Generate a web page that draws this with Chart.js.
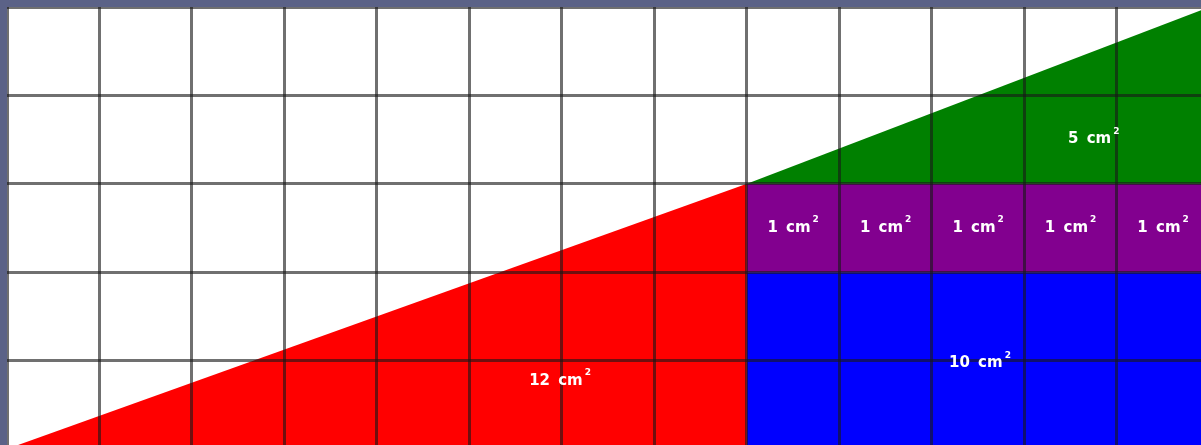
<!DOCTYPE html>
<html>
<head>
<meta charset="utf-8">
<script src="https://cdn.jsdelivr.net/npm/chart.js@4.4.1/dist/chart.umd.min.js"></script>
<style>
  html, body { margin: 0; padding: 0; background: #5b6287; width: 1201px; height: 445px; overflow: hidden; }
  #wrap { position: absolute; left: 7px; top: 7px; width: 1194px; height: 438px; background: #ffffff; }
  #c { filter: blur(0.6px); }
</style>
</head>
<body>
<div id="wrap"><canvas id="c"></canvas></div>
<script>
// Shapes (grid units: 1 cell = 1 cm)
const redX = [0, 8];
const redY = [0, 3];
const redBase = 0;

const greenX = [8, 13];
const greenY = [3, 5];
const greenBase = 3;

const purpleX = [8, 13];
const purpleY = [3, 3];
const purpleBase = 2;

const blueX = [8, 13];
const blueY = [2, 2];
const blueBase = 0;

// Area labels
const labelTexts = ['12 cm', '10 cm', '5 cm', '1 cm', '1 cm', '1 cm', '1 cm', '1 cm'];
const labelX = [5.98, 10.52, 11.75, 8.5, 9.5, 10.5, 11.5, 12.5];
const labelY = [0.77, 0.97, 3.5, 2.5, 2.5, 2.5, 2.5, 2.5];

// Axis ranges (visible window of the grid)
const xMin = 0, xMax = 12.91;
const yMin = 0.045, yMax = 5;

function pts(xs, ys) { return xs.map((x, i) => ({ x: x, y: ys[i] })); }

const mainFont = 'bold 15px "DejaVu Sans", Verdana, sans-serif';
const supFont = 'bold 9px "DejaVu Sans", Verdana, sans-serif';

const labelPlugin = {
  id: 'areaLabels',
  afterDraw(chart) {
    const ctx = chart.ctx;
    const xs = chart.scales.x, ys = chart.scales.y;
    ctx.save();
    ctx.fillStyle = '#ffffff';
    ctx.textBaseline = 'middle';
    ctx.textAlign = 'left';
    labelTexts.forEach((t, i) => {
      const px = xs.getPixelForValue(labelX[i]);
      const py = ys.getPixelForValue(labelY[i]);
      ctx.font = mainFont;
      try { ctx.wordSpacing = '3px'; } catch (e) {}
      const w = ctx.measureText(t).width;
      ctx.font = supFont;
      const w2 = ctx.measureText('2').width;
      const total = w + 2 + w2;
      const left = px - total / 2;
      ctx.font = mainFont;
      ctx.fillText(t, left, py);
      ctx.font = supFont;
      ctx.fillText('2', left + w + 2, py - 8);
    });
    ctx.restore();
  }
};

const gridStyle = { color: 'rgba(25,25,25,0.62)', lineWidth: 3, drawTicks: false, z: 1 };

new Chart(document.getElementById('c'), {
  type: 'line',
  data: {
    datasets: [
      { data: pts(redX, redY), fill: { value: redBase }, backgroundColor: '#ff0000', borderWidth: 0, pointRadius: 0 },
      { data: pts(greenX, greenY), fill: { value: greenBase }, backgroundColor: '#008000', borderWidth: 0, pointRadius: 0 },
      { data: pts(purpleX, purpleY), fill: { value: purpleBase }, backgroundColor: '#82008f', borderWidth: 0, pointRadius: 0 },
      { data: pts(blueX, blueY), fill: { value: blueBase }, backgroundColor: '#0000ff', borderWidth: 0, pointRadius: 0 }
    ]
  },
  options: {
    responsive: true,
    maintainAspectRatio: false,
    animation: false,
    layout: { padding: 0 },
    plugins: { legend: { display: false }, tooltip: { enabled: false } },
    elements: { line: { tension: 0 } },
    scales: {
      x: {
        type: 'linear', min: xMin, max: xMax,
        ticks: { display: false, stepSize: 1, includeBounds: false },
        grid: gridStyle,
        border: { display: false }
      },
      y: {
        type: 'linear', min: yMin, max: yMax,
        ticks: { display: false, stepSize: 1, includeBounds: false },
        grid: gridStyle,
        border: { display: false }
      }
    }
  },
  plugins: [labelPlugin]
});
</script>
</body>
</html>
